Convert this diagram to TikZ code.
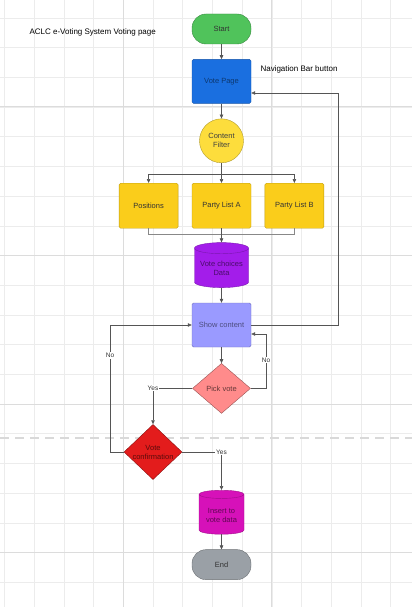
\documentclass[tikz,border=0pt]{standalone}
\usepackage{fontspec}
\setmainfont{Liberation Sans}
\usepackage{tikz}
\usetikzlibrary{positioning}
\usetikzlibrary{shapes.geometric}
\usetikzlibrary{arrows.meta}

\definecolor{gridminor}{HTML}{ECECEC}
\definecolor{gridmajor}{HTML}{DCDCDC}
\definecolor{dashgrey}{HTML}{D9D9D9}
\definecolor{linegrey}{HTML}{555555}
\definecolor{startgreen}{HTML}{50C35B}
\definecolor{voteblue}{HTML}{1A6FE0}
\definecolor{filteryellow}{HTML}{FDDD3C}
\definecolor{boxyellow}{HTML}{FACD1B}
\definecolor{datapurple}{HTML}{A31DEA}
\definecolor{showlilac}{HTML}{9A9AFF}
\definecolor{picksalmon}{HTML}{FF8B8B}
\definecolor{confirmred}{HTML}{E31C1C}
\definecolor{insertmagenta}{HTML}{D611B9}
\definecolor{endgrey}{HTML}{9AA0A6}

\begin{document}
\begin{tikzpicture}[x=1pt, y=-1pt,
	font=\fontsize{7.5}{9}\selectfont,
	terminal/.style={draw=#1!70!black, fill=#1, rounded corners=14pt, minimum width=59pt, minimum height=30pt, text=black!80},
	process/.style={draw=#1!75!black, fill=#1, rounded corners=1.5pt, minimum width=59pt, minimum height=44pt, align=center, text=#1!50!black},
	store/.style={cylinder, shape border rotate=90, aspect=0.25, draw=#1!75!black, fill=#1, minimum width=54pt, minimum height=45pt, inner sep=1pt, align=center, text=#1!45!black},
	decision/.style={diamond, draw=#1!60!black, fill=#1, minimum width=58pt, minimum height=50pt, inner sep=0pt, align=center, text=#1!40!black},
	flow/.style={draw=linegrey, line width=0.6pt, -{Triangle[length=4pt,width=3.5pt]}},
	link/.style={draw=linegrey!70, line width=0.6pt},
	tag/.style={fill=white, inner sep=0.8pt, font=\fontsize{6.5}{7}\selectfont, text=black!80}]
	\useasboundingbox (0,0) rectangle (412,607);

	% Grid
	\foreach \k in {0,...,13} \draw[gridminor, line width=0.6pt] ({4.5+29.7*\k},0) -- ++(0,607);
	\foreach \k in {0,...,19} \draw[gridminor, line width=0.6pt] (0,{17.9+29.7*\k}) -- ++(412,0);
	\foreach \x in {123.3,271.8} \draw[gridmajor, line width=0.8pt] (\x,0) -- ++(0,607);
	\foreach \y in {106.9,255.4,403.9,552.4} \draw[gridmajor, line width=0.8pt] (0,\y) -- ++(412,0);
	\draw[dashgrey, line width=2.5pt, dash pattern=on 9pt off 6pt] (0,438) -- (412,438);

	% Titles
	\node[anchor=west, font=\fontsize{8}{9}\selectfont] at (26,32) (title) {ACLC e-Voting System Voting page};
	\node[anchor=west, font=\fontsize{8}{9}\selectfont] at (257,69) (navlabel) {Navigation Bar button};

	% Main column
	\node[terminal=startgreen] at (221.5,29) (1Start) {Start};
	\node[process=voteblue, below=15pt of 1Start] (2Vote) {Vote Page};
	\node[circle, draw=filteryellow!70!black, fill=filteryellow, minimum size=44pt, inner sep=0pt, align=center, text=black!75, below=15pt of 2Vote] (3Filter) {Content\\Filter};
	\node[process=boxyellow, minimum height=45pt, text=black!80, below=20pt of 3Filter] (4ListA) {Party List A};
	\node[process=boxyellow, minimum height=45pt, text=black!80, left=13.5pt of 4ListA] (4Pos) {Positions};
	\node[process=boxyellow, minimum height=45pt, text=black!80, right=13.5pt of 4ListA] (4ListB) {Party List B};
	\node[store=datapurple, below=14pt of 4ListA] (5Data) {Vote choices\\Data};
	\node[process=showlilac, below=15pt of 5Data] (6Show) {Show content};
	\node[decision=picksalmon, below=16pt of 6Show] (7Pick) {Pick vote};
	\node[decision=confirmred] at (153,452) (8Confirm) {Vote\\confirmation};
	\node[store=insertmagenta, minimum width=45pt, minimum height=44pt] at (221.5,515) (9Insert) {Insert to\\vote data};
	\node[terminal=endgrey, below=15pt of 9Insert] (10End) {End};

	% Turning points
	\coordinate (navturn) at (338,93);
	\coordinate (noturn) at (266,334);
	\coordinate (backturn) at (110,0);

	% Connections
	\draw[flow] (1Start) -- (2Vote);
	\draw[flow] (2Vote) -- (3Filter);
	\draw[flow] (3Filter) -- (4ListA);
	\draw[flow] (3Filter.south) -- ++(0,11) -| (4Pos);
	\draw[flow] (3Filter.south) -- ++(0,11) -| (4ListB);
	\draw[link] (4Pos.south) -- ++(0,6) -| (4ListB.south);
	\draw[flow] (4ListA) -- (5Data);
	\draw[flow] (5Data) -- (6Show);
	\draw[flow] (6Show) -- (7Pick);
	\draw[flow] (6Show.east) -| (navturn) -- (navturn -| 2Vote.east);
	\draw[flow] (7Pick.east) -| node[tag, pos=0.76] {No} (noturn) -- (noturn -| 6Show.east);
	\draw[flow] (7Pick.west) -| node[tag, pos=0.5] {Yes} (8Confirm.north);
	\draw[flow] (8Confirm.west) -| node[tag, pos=0.88] {No} (backturn |- 6Show.west) -- (6Show.west);
	\draw[flow] (8Confirm.east) -| node[tag, pos=0.5] {Yes} (9Insert.north);
	\draw[flow] (9Insert) -- (10End);
\end{tikzpicture}
\end{document}
